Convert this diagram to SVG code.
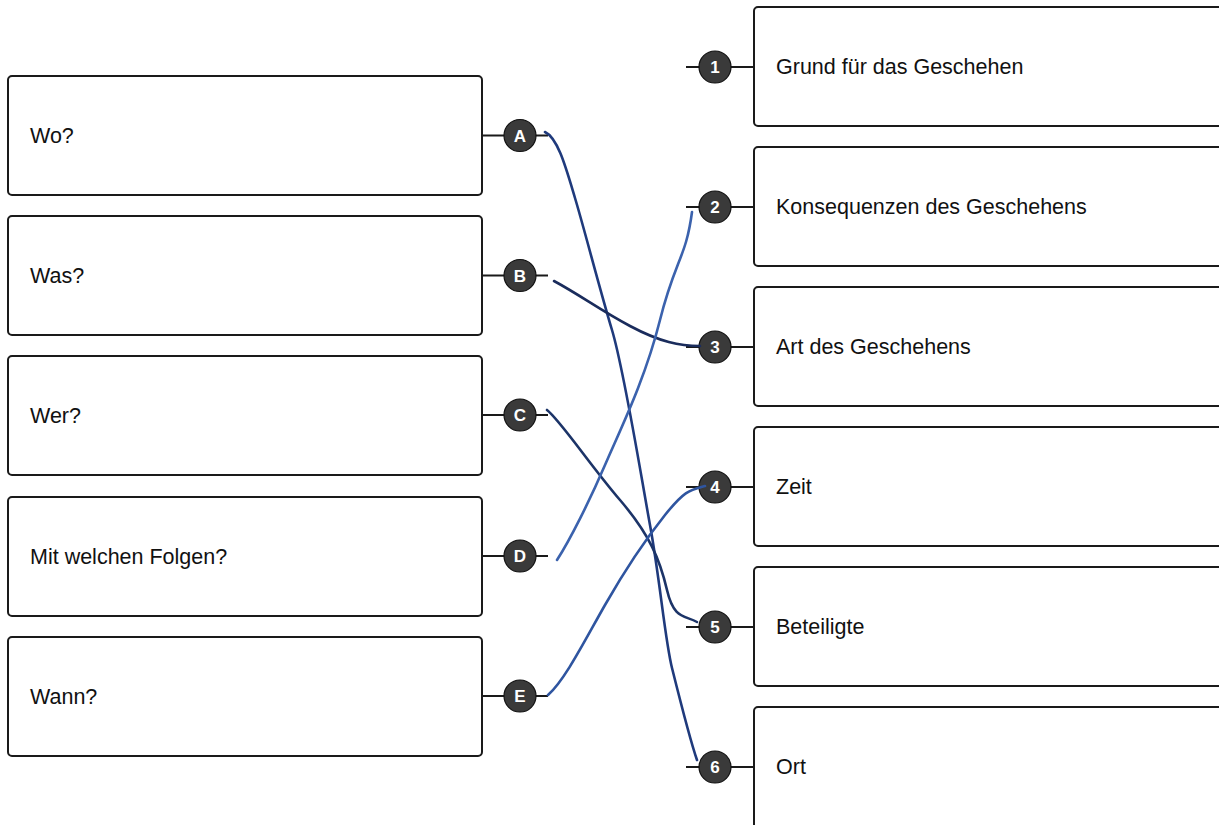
<svg xmlns="http://www.w3.org/2000/svg" width="1219" height="825" viewBox="0 0 1219 825">
<style>
.box{fill:#fff;stroke:#1a1a1a;stroke-width:2}
.tie{stroke:#1a1a1a;stroke-width:2;fill:none}
.dot{fill:#3a3a3a;stroke:#111;stroke-width:1.2}
.lbl{font-family:"Liberation Sans",Arial,sans-serif;font-size:21.5px;fill:#111}
.num{font-family:"Liberation Sans",Arial,sans-serif;font-size:17px;font-weight:bold;fill:#fff;text-anchor:middle}
.pen{fill:none;stroke-width:2.6;stroke-linecap:round;stroke-linejoin:round}
</style>
<rect width="1219" height="825" fill="#fff"/>
<g id="left-A"><rect class="box" x="8" y="76" width="474" height="119" rx="4"/><text class="lbl" x="30" y="143">Wo?</text><path class="tie" d="M482,135.5H504M536,135.5H548"/><circle class="dot" cx="520" cy="135.5" r="16"/><text class="num" x="520" y="141.5">A</text></g>
<g id="left-B"><rect class="box" x="8" y="216" width="474" height="119" rx="4"/><text class="lbl" x="30" y="283">Was?</text><path class="tie" d="M482,275.5H504M536,275.5H548"/><circle class="dot" cx="520" cy="275.5" r="16"/><text class="num" x="520" y="281.5">B</text></g>
<g id="left-C"><rect class="box" x="8" y="356" width="474" height="119" rx="4"/><text class="lbl" x="30" y="423">Wer?</text><path class="tie" d="M482,415H504M536,415H548"/><circle class="dot" cx="520" cy="415" r="16"/><text class="num" x="520" y="421">C</text></g>
<g id="left-D"><rect class="box" x="8" y="497" width="474" height="119" rx="4"/><text class="lbl" x="30" y="564">Mit welchen Folgen?</text><path class="tie" d="M482,556H504M536,556H548"/><circle class="dot" cx="520" cy="556" r="16"/><text class="num" x="520" y="562">D</text></g>
<g id="left-E"><rect class="box" x="8" y="637" width="474" height="119" rx="4"/><text class="lbl" x="30" y="704">Wann?</text><path class="tie" d="M482,696H504M536,696H548"/><circle class="dot" cx="520" cy="696" r="16"/><text class="num" x="520" y="702">E</text></g>
<g id="right-1"><rect class="box" x="754" y="7" width="480" height="119" rx="4"/><text class="lbl" x="776" y="74">Grund für das Geschehen</text><path class="tie" d="M686,67H699M731,67H754"/><circle class="dot" cx="715" cy="67" r="16"/><text class="num" x="715" y="73">1</text></g>
<g id="right-2"><rect class="box" x="754" y="147" width="480" height="119" rx="4"/><text class="lbl" x="776" y="214">Konsequenzen des Geschehens</text><path class="tie" d="M686,207H699M731,207H754"/><circle class="dot" cx="715" cy="207" r="16"/><text class="num" x="715" y="213">2</text></g>
<g id="right-3"><rect class="box" x="754" y="287" width="480" height="119" rx="4"/><text class="lbl" x="776" y="354">Art des Geschehens</text><path class="tie" d="M686,347H699M731,347H754"/><circle class="dot" cx="715" cy="347" r="16"/><text class="num" x="715" y="353">3</text></g>
<g id="right-4"><rect class="box" x="754" y="427" width="480" height="119" rx="4"/><text class="lbl" x="776" y="494">Zeit</text><path class="tie" d="M686,487H699M731,487H754"/><circle class="dot" cx="715" cy="487" r="16"/><text class="num" x="715" y="493">4</text></g>
<g id="right-5"><rect class="box" x="754" y="567" width="480" height="119" rx="4"/><text class="lbl" x="776" y="634">Beteiligte</text><path class="tie" d="M686,627H699M731,627H754"/><circle class="dot" cx="715" cy="627" r="16"/><text class="num" x="715" y="633">5</text></g>
<g id="right-6"><rect class="box" x="754" y="707" width="480" height="140" rx="4"/><text class="lbl" x="776" y="774">Ort</text><path class="tie" d="M686,767H699M731,767H754"/><circle class="dot" cx="715" cy="767" r="16"/><text class="num" x="715" y="773">6</text></g>
<g id="connectors">
<path class="pen" stroke="#1f3a7c" d="M545,132 C558,138 566,168 575,198 S600,290 612,330 S640,470 650,525 S665,640 672,668 S690,740 697,760"/>
<path class="pen" stroke="#1a2c5c" d="M554,281 C580,295 600,310 630,326 S680,346 700,346"/>
<path class="pen" stroke="#1c3468" d="M547,410 C560,420 590,465 620,500 S660,560 667,590 S685,615 697,622"/>
<path class="pen" stroke="#3b62ad" d="M557,560 C570,540 590,500 605,465 S645,380 660,320 S686,258 692,212"/>
<path class="pen" stroke="#2f55a0" d="M548,695 C565,680 585,640 605,605 S645,540 665,515 S690,490 705,486"/>
</g>
</svg>
